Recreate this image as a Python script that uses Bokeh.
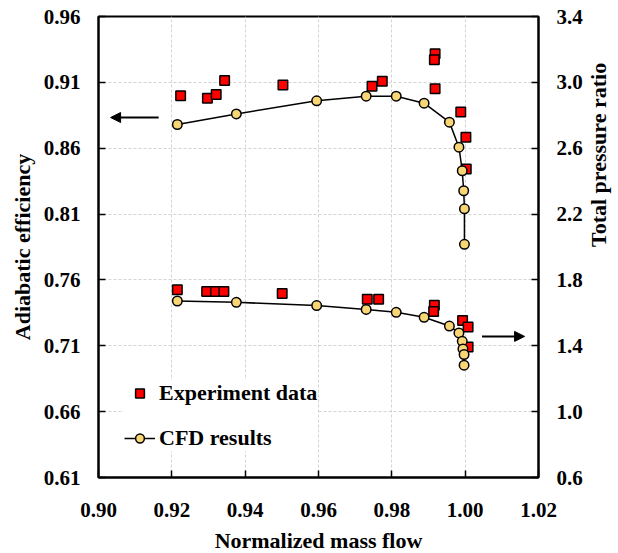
import math
from bokeh.plotting import figure
from bokeh.models import (Range1d, LinearAxis, FixedTicker, NumeralTickFormatter,
                          Legend, LegendItem, Arrow, NormalHead)
from bokeh.embed import file_html
from bokeh.resources import INLINE

# ---------------- data ----------------
# Adiabatic efficiency (left axis)
eff_exp_x = [0.9224, 0.9297, 0.9321, 0.9344, 0.9503, 0.9746, 0.9774, 0.9918, 0.9916, 0.9918, 0.9988, 1.0002, 1.0003]
eff_exp_y = [0.8998, 0.8980, 0.9008, 0.9114, 0.9079, 0.9071, 0.9109, 0.9317, 0.9271, 0.9051, 0.8874, 0.8684, 0.8443]
eff_cfd_x = [0.9215, 0.9376, 0.9595, 0.9730, 0.9812, 0.9888, 0.9957, 0.9983, 0.9992, 0.9996, 0.9998, 0.9998]
eff_cfd_y = [0.8780, 0.8860, 0.8960, 0.8995, 0.8995, 0.8942, 0.8798, 0.8608, 0.8429, 0.8277, 0.8140, 0.7870]

# Total pressure ratio (right axis)
pr_exp_x = [0.9215, 0.9295, 0.9319, 0.9342, 0.9501, 0.9733, 0.9764, 0.9916, 0.9914, 0.9993, 1.0008, 1.0008]
pr_exp_y = [1.741, 1.729, 1.729, 1.729, 1.717, 1.682, 1.682, 1.646, 1.608, 1.553, 1.514, 1.393]
pr_cfd_x = [0.9215, 0.9376, 0.9595, 0.9730, 0.9812, 0.9888, 0.9957, 0.9983, 0.9992, 0.9994, 0.9997, 0.9997]
pr_cfd_y = [1.672, 1.664, 1.644, 1.621, 1.603, 1.573, 1.520, 1.478, 1.427, 1.381, 1.347, 1.282]

x_ticks = [0.90, 0.92, 0.94, 0.96, 0.98, 1.00, 1.02]
left_ticks = [0.61, 0.66, 0.71, 0.76, 0.81, 0.86, 0.91, 0.96]
right_ticks = [0.6, 1.0, 1.4, 1.8, 2.2, 2.6, 3.0, 3.4]

# arrows pointing to the axis each curve group belongs to
arrow_left = dict(x_start=0.9164, x_end=0.9033, y=0.8833)
arrow_right = dict(x_start=1.0046, x_end=1.0162, y=1.457)

FONT = "Liberation Serif"
SQ_COLOR = "#ff0000"
CIRC_COLOR = "#f8d676"

p = figure(frame_width=440, frame_height=461,
           x_range=Range1d(0.90, 1.02), y_range=Range1d(0.61, 0.96),
           output_backend="svg", toolbar_location=None,
           min_border_left=98, min_border_right=72,
           min_border_top=16, min_border_bottom=76)
p.extra_y_ranges = {"pr": Range1d(0.6, 3.4)}

p.background_fill_color = "white"
p.border_fill_color = "white"
p.outline_line_color = "black"
p.outline_line_width = 2

def style_axis(ax, fmt):
    ax.formatter = NumeralTickFormatter(format=fmt)
    ax.axis_line_width = 2
    ax.axis_line_color = "black"
    ax.major_tick_in = 7
    ax.major_tick_out = 0
    ax.major_tick_line_width = 1.5
    ax.minor_tick_in = 0
    ax.minor_tick_out = 0
    ax.major_label_text_font = FONT
    ax.major_label_text_font_style = "bold"
    ax.major_label_text_font_size = "21px"
    ax.major_label_text_color = "black"
    ax.major_label_standoff = 18
    ax.axis_label_text_font = FONT
    ax.axis_label_text_font_style = "bold"
    ax.axis_label_text_font_size = "22px"
    ax.axis_label_text_color = "black"

p.xaxis.ticker = FixedTicker(ticks=x_ticks)
style_axis(p.xaxis[0], "0.00")
p.xaxis.axis_label = "Normalized mass flow"
p.xaxis.axis_label_standoff = 8
p.xaxis.major_label_standoff = 25

p.yaxis.ticker = FixedTicker(ticks=left_ticks)
style_axis(p.yaxis[0], "0.00")
p.yaxis.axis_label = "Adiabatic efficiency"
p.yaxis.axis_label_standoff = 6

raxis = LinearAxis(y_range_name="pr", ticker=FixedTicker(ticks=right_ticks),
                   axis_label="Total pressure ratio")
style_axis(raxis, "0.0")
raxis.axis_label_standoff = 13
raxis.axis_label_orientation = math.pi / 2
p.add_layout(raxis, "right")

for g in (p.xgrid, p.ygrid):
    g.grid_line_color = "#d4d4d4"
    g.grid_line_dash = "3 2"
    g.grid_line_width = 1
p.xgrid.ticker = FixedTicker(ticks=x_ticks)
p.ygrid.ticker = FixedTicker(ticks=left_ticks)

# experiment squares
sq1 = p.scatter(eff_exp_x, eff_exp_y, marker="square", size=9.5,
                fill_color=SQ_COLOR, line_color="black", line_width=1.5)
sq2 = p.scatter(pr_exp_x, pr_exp_y, marker="square", size=9.5, y_range_name="pr",
                fill_color=SQ_COLOR, line_color="black", line_width=1.5)

# CFD lines + circles
l1 = p.line(eff_cfd_x, eff_cfd_y, line_color="black", line_width=1.5)
c1 = p.scatter(eff_cfd_x, eff_cfd_y, marker="circle", size=9.5,
               fill_color=CIRC_COLOR, line_color="black", line_width=1.5)
l2 = p.line(pr_cfd_x, pr_cfd_y, line_color="black", line_width=1.5, y_range_name="pr")
c2 = p.scatter(pr_cfd_x, pr_cfd_y, marker="circle", size=9.5, y_range_name="pr",
               fill_color=CIRC_COLOR, line_color="black", line_width=1.5)

# arrows
p.add_layout(Arrow(end=NormalHead(size=10, fill_color="black", line_color="black", line_width=1),
                   x_start=arrow_left["x_start"], y_start=arrow_left["y"],
                   x_end=arrow_left["x_end"], y_end=arrow_left["y"],
                   line_width=2, line_color="black"))
p.add_layout(Arrow(end=NormalHead(size=10, fill_color="black", line_color="black", line_width=1),
                   x_start=arrow_right["x_start"], y_start=arrow_right["y"],
                   x_end=arrow_right["x_end"], y_end=arrow_right["y"],
                   y_range_name="pr", line_width=2, line_color="black"))

legend = Legend(items=[LegendItem(label="Experiment data", renderers=[sq1]),
                       LegendItem(label="CFD results", renderers=[l1, c1])],
                location=(26, 26))
legend.background_fill_color = "white"
legend.background_fill_alpha = 1
legend.border_line_color = None
legend.padding = 12
legend.margin = 0
legend.spacing = 19
legend.glyph_width = 31
legend.glyph_height = 22
legend.label_height = 22
legend.label_standoff = 4
legend.label_text_font = FONT
legend.label_text_font_style = "bold"
legend.label_text_font_size = "22px"
legend.label_text_color = "black"
p.add_layout(legend, "center")

open("out.html", "w").write(file_html(p, INLINE))
